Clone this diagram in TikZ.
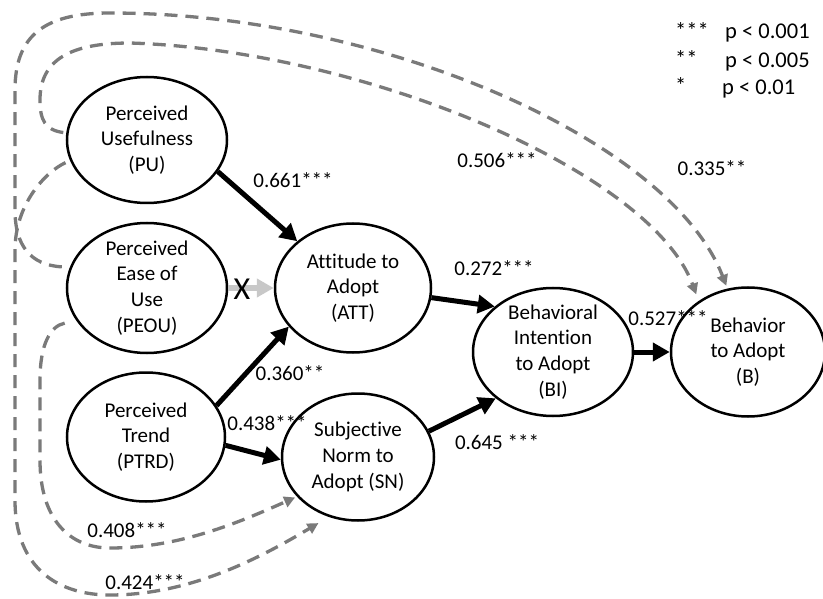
\documentclass[tikz,border=0pt]{standalone}
\usepackage{fontspec}
\setmainfont{Carlito}[Ligatures=NoCommon]
\usetikzlibrary{shapes.geometric,arrows.meta}
\definecolor{dashgray}{RGB}{122,122,122}
\definecolor{lightarrow}{RGB}{200,200,200}
\begin{document}
\begin{tikzpicture}[x=1pt,y=-1pt,
  construct/.style={draw, ellipse, line width=2.5pt, inner sep=0pt},
  ctext/.style={align=center, inner sep=0pt, font=\fontsize{21}{25.8}\selectfont},
  coef/.style={inner sep=0pt, font=\fontsize{21}{24}\selectfont},
  legend/.style={inner sep=0pt, anchor=west, font=\fontsize{22.5}{24}\selectfont},
  solidpath/.style={line width=5pt, -{Triangle[length=17pt,width=18pt]}},
  weakpath/.style={lightarrow, line width=6pt, -{Triangle[length=17pt,width=18pt]}},
  dashpath/.style={dashgray, line width=3.3pt, dash pattern=on 13pt off 8pt,
    -{Triangle[length=11pt,width=11pt]}}]
\useasboundingbox (0,0) rectangle (823,599);

% constructs
\node[construct, minimum width=160pt, minimum height=126pt] (PU)   at (147,140) {};
\node[construct, minimum width=160pt, minimum height=130pt] (PEOU) at (147,288) {};
\node[construct, minimum width=158pt, minimum height=129pt] (PTRD) at (146,437) {};
\node[construct, minimum width=156pt, minimum height=129pt] (ATT)  at (353,288) {};
\node[construct, minimum width=152pt, minimum height=127pt] (SN)   at (358,457) {};
\node[construct, minimum width=160pt, minimum height=128pt] (BI)   at (553,352) {};
\node[construct, minimum width=154pt, minimum height=129pt] (B)    at (748,352) {};

\node[ctext] (PUt)   at (PU)   {Perceived\\Usefulness\\(PU)};
\node[ctext] (PEOUt) at (PEOU) {Perceived\\Ease of\\Use\\(PEOU)};
\node[ctext] (PTRDt) at (PTRD) {Perceived\\Trend\\(PTRD)};
\node[ctext] (ATTt)  at (ATT)  {Attitude to\\Adopt\\(ATT)};
\node[ctext] (SNt)   at (SN)   {Subjective\\Norm to\\Adopt (SN)};
\node[ctext] (BIt)   at (BI)   {Behavioral\\Intention\\to Adopt\\(BI)};
\node[ctext] (Bt)    at (B)    {Behavior\\to Adopt\\(B)};

% direct paths
\draw[solidpath] (PU.-24.6) -- (ATT.140);
\draw[weakpath] (PEOU.0) -- (ATT.180);
\draw[solidpath] (PTRD.24) -- (ATT.211);
\draw[solidpath] (PTRD.-6) -- (SN.182);
\draw[solidpath] (ATT.-7) -- (BI.142);
\draw[solidpath] (SN.20) -- (BI.219);
\draw[solidpath] (BI.0) -- (B.180);

% paths drawn round the outside
\draw[dashpath, shorten <=8pt, shorten >=3pt] (PEOU.165)
  .. controls (30,265) and (15,245) .. (15,210) -- (15,90)
  .. controls (15,35) and (45,13) .. (110,13)
  .. controls (380,13) and (670,140) .. (B.108);
\draw[dashpath, shorten <=3pt, shorten >=7pt] (PU.175)
  .. controls (45,130) and (40,120) .. (40,100)
  .. controls (40,60) and (70,43) .. (130,43)
  .. controls (360,50) and (650,170) .. (B.134);
\draw[dashpath, shorten <=5pt, shorten >=12pt] (PU.195)
  .. controls (45,172) and (15,205) .. (15,250) -- (15,500)
  .. controls (15,570) and (60,595) .. (110,595)
  .. controls (190,595) and (260,558) .. (SN.244);
\draw[dashpath, shorten <=12pt, shorten >=2pt] (PEOU.205)
  .. controls (50,326) and (40,345) .. (40,380) -- (40,460)
  .. controls (40,520) and (70,548) .. (110,548)
  .. controls (180,548) and (240,522) .. (SN.213);

% coefficients
\node[coef] (c661) at (293,180) {0.661***};
\node[coef] (c272) at (494,268) {0.272***};
\node[coef] (c506) at (497,160) {0.506***};
\node[coef] (c335) at (712,168) {0.335**};
\node[coef] (c360) at (290,373) {0.360**};
\node[coef] (c438) at (267,423) {0.438***};
\node[coef] (c408) at (127,530) {0.408***};
\node[coef] (c424) at (145,582) {0.424***};
\node[coef] (c645) at (497,442) {0.645 ***};
\node[coef] (c527) at (668,318) {0.527***};
\node[inner sep=0pt, font=\fontsize{32}{32}\selectfont] (cross) at (242,289) {X};

% significance key
\node[legend] (k3) at (675,31) {***};
\node[legend] (p3) at (725,33) {p < 0.001};
\node[legend] (k2) at (675,59) {**};
\node[legend] (p2) at (725,62) {p < 0.005};
\node[legend] (k1) at (675,86) {*};
\node[legend] (p1) at (722,89) {p < 0.01};
\end{tikzpicture}
\end{document}
